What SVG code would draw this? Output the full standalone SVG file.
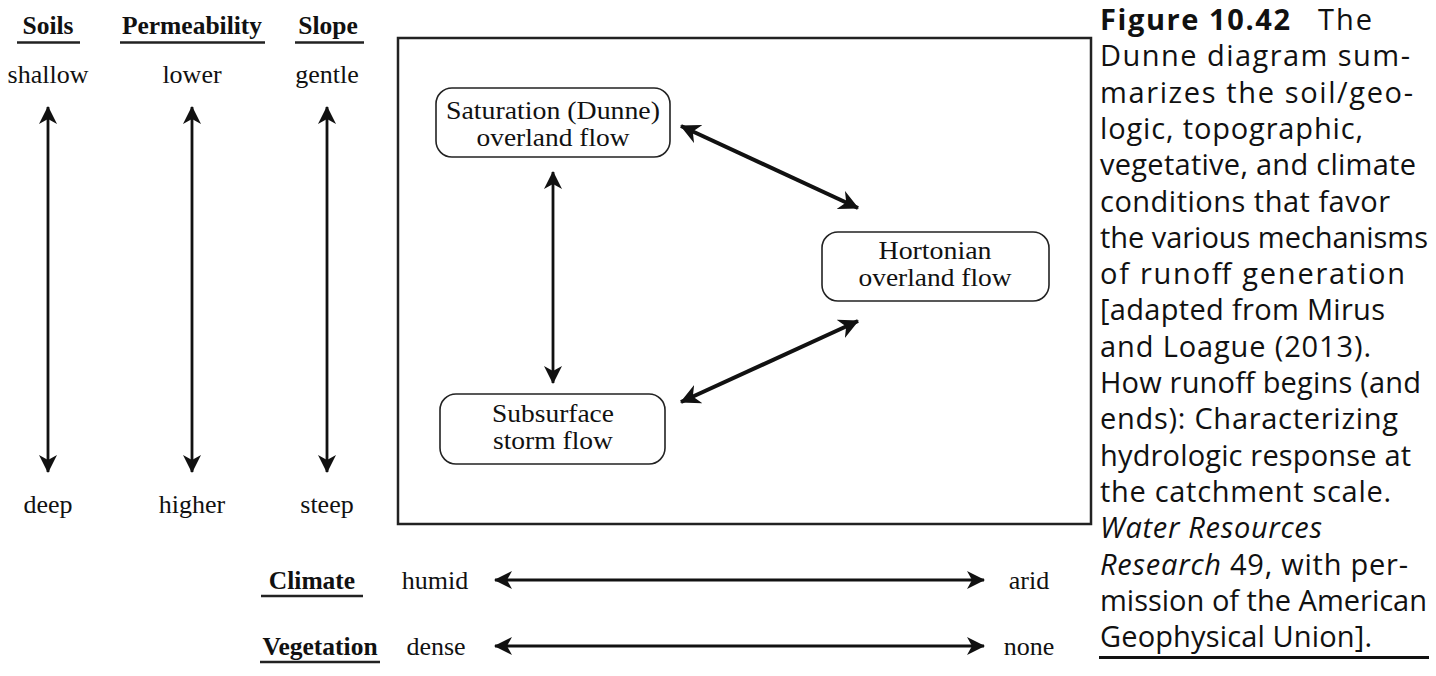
<svg xmlns="http://www.w3.org/2000/svg" width="1436" height="676" viewBox="0 0 1436 676">
<style>
.t{font-family:"Liberation Serif","Times New Roman",serif;font-size:26px;fill:#111;text-anchor:middle}
.n{font-family:"Liberation Serif","Times New Roman",serif;font-size:26px;fill:#111;text-anchor:middle}
.h{font-family:"Liberation Serif","Times New Roman",serif;font-size:25.5px;font-weight:bold;fill:#111;text-anchor:middle}
.c{font-family:"Open Sans","Noto Sans","Liberation Sans",sans-serif;font-size:29px;fill:#111}
.node{fill:#fff;stroke:#222;stroke-width:1.6}
.ul{stroke:#222;stroke-width:2.5}
.ax{stroke:#111;stroke-width:2.8;fill:none;marker-start:url(#ah);marker-end:url(#ah)}
.dg{stroke:#111;stroke-width:4;fill:none;marker-start:url(#ah2);marker-end:url(#ah2)}
</style>
<defs>
<marker id="ah" markerUnits="userSpaceOnUse" viewBox="0 0 18 18" refX="17" refY="9" markerWidth="18" markerHeight="18" orient="auto-start-reverse"><path d="M0,0 L18,9 L0,18 L5,9 z" fill="#111"/></marker>
<marker id="ah2" markerUnits="userSpaceOnUse" viewBox="0 0 20 20" refX="19" refY="10" markerWidth="20" markerHeight="20" orient="auto-start-reverse"><path d="M0,0 L20,10 L0,20 L6,10 z" fill="#111"/></marker>
</defs>
<rect width="1436" height="676" fill="#fff"/>

<g id="side-axes">
<text class="h" x="48" y="34">Soils</text>
<line class="ul" x1="17" y1="42.5" x2="80" y2="42.5"/>
<text class="h" x="192" y="34">Permeability</text>
<line class="ul" x1="120" y1="42.5" x2="265" y2="42.5"/>
<text class="h" x="328" y="34">Slope</text>
<line class="ul" x1="295" y1="42.5" x2="364" y2="42.5"/>
<text class="t" x="48" y="83">shallow</text>
<text class="t" x="192" y="83">lower</text>
<text class="t" x="327" y="83">gentle</text>
<text class="t" x="48" y="513">deep</text>
<text class="t" x="192" y="513">higher</text>
<text class="t" x="327" y="513">steep</text>
</g>

<rect id="frame" x="398" y="38" width="693" height="486" fill="none" stroke="#222" stroke-width="2.5"/>

<g id="saturation">
<rect class="node" x="436" y="88" width="234" height="69" rx="16"/>
<text class="n" x="553" y="119" textLength="214" lengthAdjust="spacingAndGlyphs">Saturation (Dunne)</text>
<text class="n" x="553" y="146" textLength="153" lengthAdjust="spacingAndGlyphs">overland flow</text>
</g>
<g id="hortonian">
<rect class="node" x="822" y="232" width="227" height="69" rx="16"/>
<text class="n" x="935" y="259" textLength="113" lengthAdjust="spacingAndGlyphs">Hortonian</text>
<text class="n" x="935" y="286" textLength="153" lengthAdjust="spacingAndGlyphs">overland flow</text>
</g>
<g id="subsurface">
<rect class="node" x="440" y="394" width="225" height="70" rx="16"/>
<text class="n" x="553" y="422" textLength="122" lengthAdjust="spacingAndGlyphs">Subsurface</text>
<text class="n" x="553" y="449" textLength="120" lengthAdjust="spacingAndGlyphs">storm flow</text>
</g>

<g id="bottom-axes">
<text class="h" x="312" y="589">Climate</text>
<line class="ul" x1="261" y1="596" x2="363" y2="596"/>
<text class="t" x="435" y="589">humid</text>
<text class="t" x="1029" y="589">arid</text>
<text class="h" x="320" y="655">Vegetation</text>
<line class="ul" x1="260" y1="662" x2="380" y2="662"/>
<text class="t" x="436" y="655">dense</text>
<text class="t" x="1029" y="655">none</text>
</g>

<g id="connectors">
<line class="ax" x1="48" y1="107" x2="48" y2="472"/>
<line class="ax" x1="192" y1="107" x2="192" y2="472"/>
<line class="ax" x1="327" y1="107" x2="327" y2="472"/>
<line class="ax" x1="553" y1="172" x2="553" y2="383"/>
<line class="dg" x1="681" y1="126" x2="858" y2="208"/>
<line class="dg" x1="681" y1="402" x2="858" y2="321"/>
<line class="ax" x1="495" y1="580" x2="984" y2="580"/>
<line class="ax" x1="495" y1="646" x2="984" y2="646"/>
</g>

<g id="caption">
<text class="c" x="1100" y="30" font-weight="bold" textLength="190">Figure 10.42</text>
<text class="c" x="1318" y="30" textLength="54">The</text>
<text class="c" x="1100" y="66" textLength="310">Dunne diagram sum-</text>
<text class="c" x="1100" y="103" textLength="313">marizes the soil/geo-</text>
<text class="c" x="1100" y="139" textLength="263">logic, topographic,</text>
<text class="c" x="1100" y="175" textLength="316">vegetative, and climate</text>
<text class="c" x="1100" y="212" textLength="290">conditions that favor</text>
<text class="c" x="1100" y="248" textLength="328">the various mechanisms</text>
<text class="c" x="1100" y="284" textLength="305">of runoff generation</text>
<text class="c" x="1100" y="320" textLength="285">[adapted from Mirus</text>
<text class="c" x="1100" y="357" textLength="271">and Loague (2013).</text>
<text class="c" x="1100" y="393" textLength="321">How runoff begins (and</text>
<text class="c" x="1100" y="429" textLength="298">ends): Characterizing</text>
<text class="c" x="1100" y="466" textLength="311">hydrologic response at</text>
<text class="c" x="1100" y="502" textLength="291">the catchment scale.</text>
<text class="c" x="1100" y="538" font-style="italic" textLength="222">Water Resources</text>
<text class="c" x="1100" y="575" textLength="308"><tspan font-style="italic">Research</tspan> 49, with per-</text>
<text class="c" x="1100" y="611" textLength="327">mission of the American</text>
<text class="c" x="1100" y="647" textLength="272">Geophysical Union].</text>
<line x1="1099" y1="657.5" x2="1429" y2="657.5" stroke="#111" stroke-width="3"/>
</g>
</svg>
